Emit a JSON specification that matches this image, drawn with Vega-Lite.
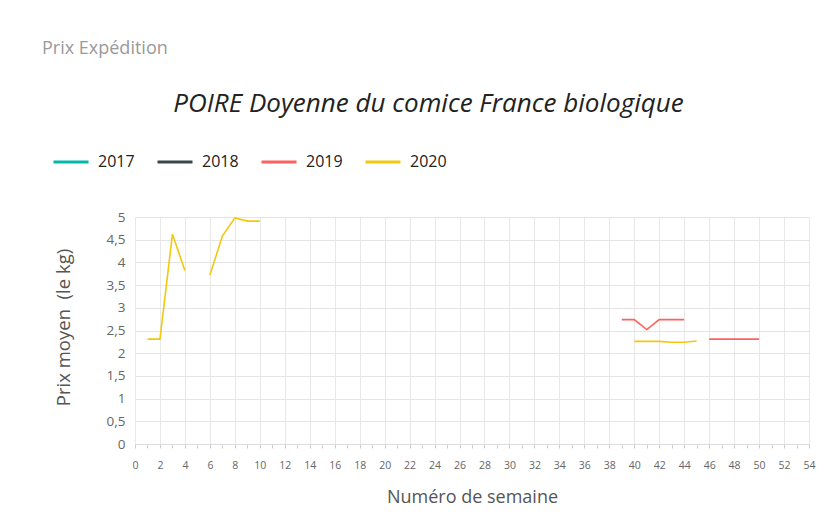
{
  "$schema": "https://vega.github.io/schema/vega-lite/v6.json",
  "autosize": {"type": "none"},
  "width": 674,
  "height": 227,
  "padding": {"left": 135, "top": 217, "right": 31, "bottom": 83},
  "background": "white",
  "config": {
    "font": "Open Sans",
    "view": {"stroke": null}
  },
  "title": {
    "text": "Prix Expédition",
    "fontStyle": "normal",
    "fontWeight": "normal",
    "fontSize": 18,
    "color": "#9a9a9a",
    "anchor": "start",
    "frame": "group",
    "dx": -93,
    "offset": 32
  },
  "data": {
    "values": [
      {"year": "2020", "seg": "a", "week": 1, "price": 2.31},
      {"year": "2020", "seg": "a", "week": 2, "price": 2.31},
      {"year": "2020", "seg": "a", "week": 3, "price": 4.62},
      {"year": "2020", "seg": "a", "week": 4, "price": 3.82},
      {"year": "2020", "seg": "b", "week": 6, "price": 3.72},
      {"year": "2020", "seg": "b", "week": 7, "price": 4.58},
      {"year": "2020", "seg": "b", "week": 8, "price": 4.98},
      {"year": "2020", "seg": "b", "week": 9, "price": 4.91},
      {"year": "2020", "seg": "b", "week": 10, "price": 4.91},
      {"year": "2020", "seg": "c", "week": 40, "price": 2.26},
      {"year": "2020", "seg": "c", "week": 41, "price": 2.26},
      {"year": "2020", "seg": "c", "week": 42, "price": 2.26},
      {"year": "2020", "seg": "c", "week": 43, "price": 2.24},
      {"year": "2020", "seg": "c", "week": 44, "price": 2.24},
      {"year": "2020", "seg": "c", "week": 45, "price": 2.27},
      {"year": "2019", "seg": "a", "week": 39, "price": 2.74},
      {"year": "2019", "seg": "a", "week": 40, "price": 2.74},
      {"year": "2019", "seg": "a", "week": 41, "price": 2.52},
      {"year": "2019", "seg": "a", "week": 42, "price": 2.74},
      {"year": "2019", "seg": "a", "week": 43, "price": 2.74},
      {"year": "2019", "seg": "a", "week": 44, "price": 2.74},
      {"year": "2019", "seg": "b", "week": 46, "price": 2.31},
      {"year": "2019", "seg": "b", "week": 47, "price": 2.31},
      {"year": "2019", "seg": "b", "week": 48, "price": 2.31},
      {"year": "2019", "seg": "b", "week": 49, "price": 2.31},
      {"year": "2019", "seg": "b", "week": 50, "price": 2.31}
    ]
  },
  "resolve": {"axis": {"x": "independent"}},
  "layer": [
    {
      "mark": {"type": "line", "strokeWidth": 1.6, "interpolate": "linear"},
      "encoding": {
        "x": {
          "field": "week",
          "type": "quantitative",
          "scale": {"domain": [0, 54], "nice": false, "zero": false},
          "axis": {
            "orient": "bottom",
            "title": "Numéro de semaine",
            "titleFontSize": 18,
            "titleFontWeight": "normal",
            "titleColor": "#555555",
            "titleY": 53,
            "titleBaseline": "middle",
            "tickCount": 108,
            "format": "d",
            "labelExpr": "datum.value % 2 === 0 ? datum.label : ''",
            "labelOverlap": false,
            "labelFlush": false,
            "labelFontSize": 10.5,
            "labelColor": "#666666",
            "labelPadding": 12,
            "tickSize": 4,
            "tickColor": "#cccccc",
            "domainColor": "#dddddd",
            "grid": true,
            "gridColor": "#e8e8e8",
            "gridOpacity": {"condition": {"test": "datum.value % 2 !== 0", "value": 0}, "value": 1}
          }
        },
        "y": {
          "field": "price",
          "type": "quantitative",
          "scale": {"domain": [0, 5], "nice": false},
          "axis": {
            "title": "Prix moyen \u00a0(le kg)",
            "titleFontSize": 18.5,
            "titleFontWeight": "normal",
            "titleColor": "#555555",
            "titleX": -72,
            "titleY": 110,
            "titleAngle": -90,
            "titleAlign": "center",
            "titleBaseline": "middle",
            "values": [0, 0.5, 1, 1.5, 2, 2.5, 3, 3.5, 4, 4.5, 5],
            "format": "~g",
            "labelExpr": "replace(datum.label, '.', ',')",
            "labelFontSize": 13.5,
            "labelColor": "#666666",
            "labelPadding": 10,
            "ticks": false,
            "domain": false,
            "grid": true,
            "gridColor": "#e4e4e4"
          }
        },
        "color": {
          "field": "year",
          "type": "nominal",
          "scale": {
            "domain": ["2017", "2018", "2019", "2020"],
            "range": ["#01B8AA", "#374649", "#FD625E", "#F2C80F"]
          },
          "legend": {
            "title": null,
            "orient": "none",
            "legendX": -83,
            "legendY": -74,
            "direction": "horizontal",
            "symbolType": "stroke",
            "symbolStrokeWidth": 3,
            "symbolSize": 1225,
            "labelFontSize": 16,
            "labelColor": "#222222",
            "labelOffset": 8,
            "columnPadding": 16
          }
        },
        "detail": {"field": "seg", "type": "nominal"}
      }
    },
    {
      "mark": {"type": "point", "opacity": 0},
      "encoding": {
        "x": {
          "field": "week",
          "type": "quantitative",
          "axis": {
            "orient": "top",
            "title": "POIRE Doyenne du comice France biologique",
            "titleFontSize": 26,
            "titleFontStyle": "italic",
            "titleFontWeight": "normal",
            "titleColor": "#222222",
            "titleX": 293,
            "titleY": -114,
            "titleAlign": "center",
            "titleBaseline": "middle",
            "titleAnchor": null,
            "labels": false,
            "ticks": false,
            "domain": false,
            "grid": false
          }
        }
      }
    }
  ]
}
